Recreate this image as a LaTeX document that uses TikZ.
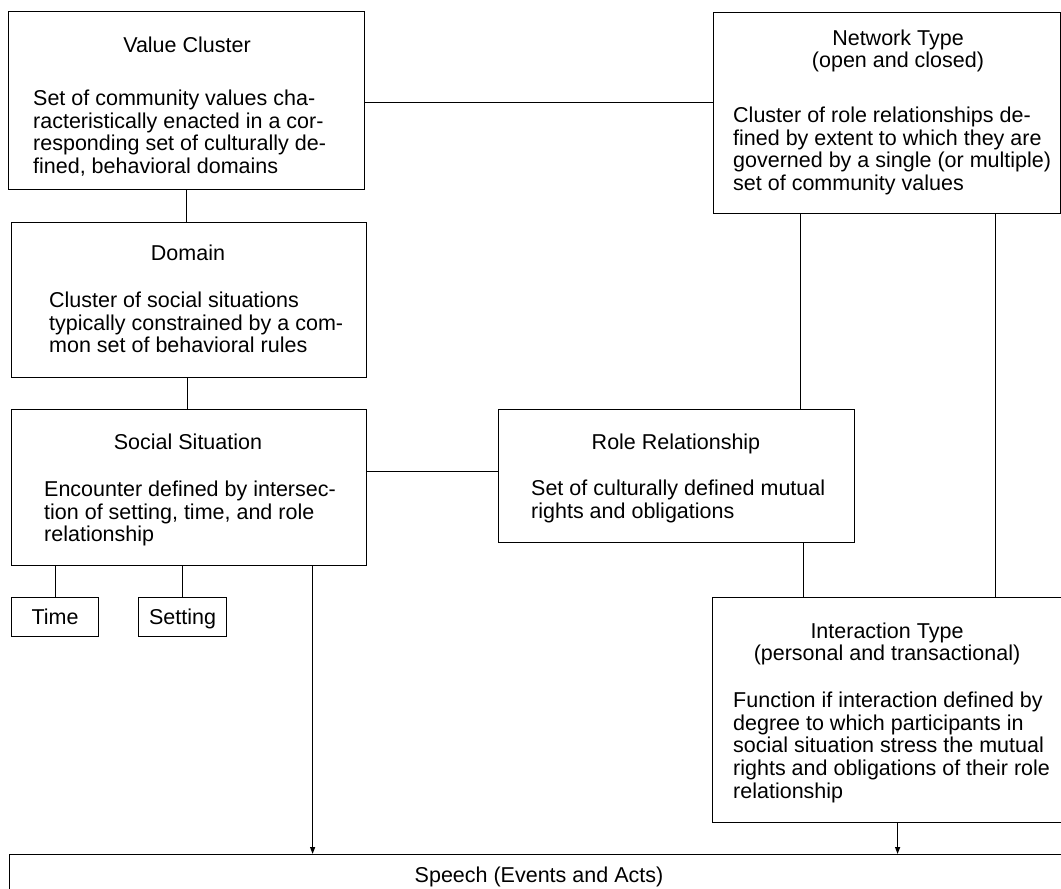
\documentclass[tikz,border=0pt]{standalone}
\usepackage{fontspec}
\setmainfont{Liberation Sans}
\usetikzlibrary{arrows.meta}
\begin{document}
\begin{tikzpicture}[x=1pt,y=-1pt,
  box/.style={draw, line width=1.2pt, rectangle, inner sep=0pt, anchor=north west,
    font=\fontsize{21.5}{22.6}\selectfont},
  ttl/.style={inner sep=0pt, align=center, font=\fontsize{21.5}{22.3}\selectfont},
  ttlone/.style={ttl, text height=15.4pt, text depth=0pt},
  body/.style={inner sep=0pt, align=left, anchor=north west, font=\fontsize{21.5}{22.6}\selectfont},
  link/.style={line width=1.2pt},
  arr/.style={line width=1.2pt, -{Triangle[length=7pt,width=5pt]}}
]
\useasboundingbox (0,0) rectangle (1061,889);

% boxes
\node[box, minimum width=356pt, minimum height=178pt] (vc) at (8,11) {};
\node[box, minimum width=355pt, minimum height=155pt] (dm) at (11,222) {};
\node[box, minimum width=355pt, minimum height=156pt] (ss) at (11,409) {};
\node[box, minimum width=356pt, minimum height=133pt] (rr) at (498,409) {};
\node[box, minimum width=347pt, minimum height=201pt] (nt) at (713,12) {};
\node[box, minimum width=350pt, minimum height=225pt] (it) at (712,597) {};
\node[box, minimum width=1053pt, minimum height=60pt] (sp) at (9,854) {};
\node[box, minimum width=87pt, minimum height=39pt, text height=15.4pt, text depth=0pt] (tm) at (11,597) {Time};
\node[box, minimum width=88pt, minimum height=39pt, text height=15.4pt, text depth=0pt] (st) at (138,597) {Setting};

% texts
\node[ttlone] (vct) at (187,45) {Value Cluster};
\node[body] (vcb) at (33,90) {Set of community values cha-\\racteristically enacted in a cor-\\responding set of culturally de-\\fined, behavioral domains};
\node[ttlone] (dmt) at (188,253) {Domain};
\node[body] (dmb) at (49,292) {Cluster of social situations\\typically constrained by a com-\\mon set of behavioral rules};
\node[ttlone] (sst) at (188,442) {Social Situation};
\node[body] (ssb) at (44,481) {Encounter defined by intersec-\\tion of setting, time, and role\\relationship};
\node[ttlone] (rrt) at (676,442) {Role Relationship};
\node[body] (rrb) at (531,480) {Set of culturally defined mutual\\rights and obligations};
\node[ttl] (ntt) at (898,51) {Network Type\\(open and closed)};
\node[body] (ntb) at (733,107) {Cluster of role relationships de-\\fined by extent to which they are\\governed by a single (or multiple)\\set of community values};
\node[ttl] (itt) at (887,644) {Interaction Type\\(personal and transactional)};
\node[body] (itb) at (733,692) {Function if interaction defined by\\degree to which participants in\\social situation stress the mutual\\rights and obligations of their role\\relationship};
\node[ttlone] (spt) at (539,875) {Speech (Events and Acts)};

% connectors
\draw[link] ([yshift=-2pt]vc.east) -- ([yshift=-2pt]vc.east -| nt.west);
\draw[link] (vc.south) -- (vc.south |- dm.north);
\draw[link] ([xshift=-1.5pt]dm.south) -- ([xshift=-1.5pt]dm.south |- ss.north);
\draw[link] ([yshift=4.5pt]rr.west) -- ([yshift=4.5pt]rr.west -| ss.east);
\draw[link] ([xshift=124pt]rr.north) -- ([xshift=124pt]rr.north |- nt.south);
\draw[link] ([xshift=127pt]rr.south) -- ([xshift=127pt]rr.south |- it.north);
\draw[link] ([xshift=108pt]it.north) -- ([xshift=108pt]it.north |- nt.south);
\draw[link] (tm.north) -- (tm.north |- ss.south);
\draw[link] (st.north) -- (st.north |- ss.south);
\draw[arr] ([xshift=123.5pt]ss.south) -- ([xshift=123.5pt]ss.south |- sp.north);
\draw[arr] ([xshift=10pt]it.south) -- ([xshift=10pt]it.south |- sp.north);
\end{tikzpicture}
\end{document}
